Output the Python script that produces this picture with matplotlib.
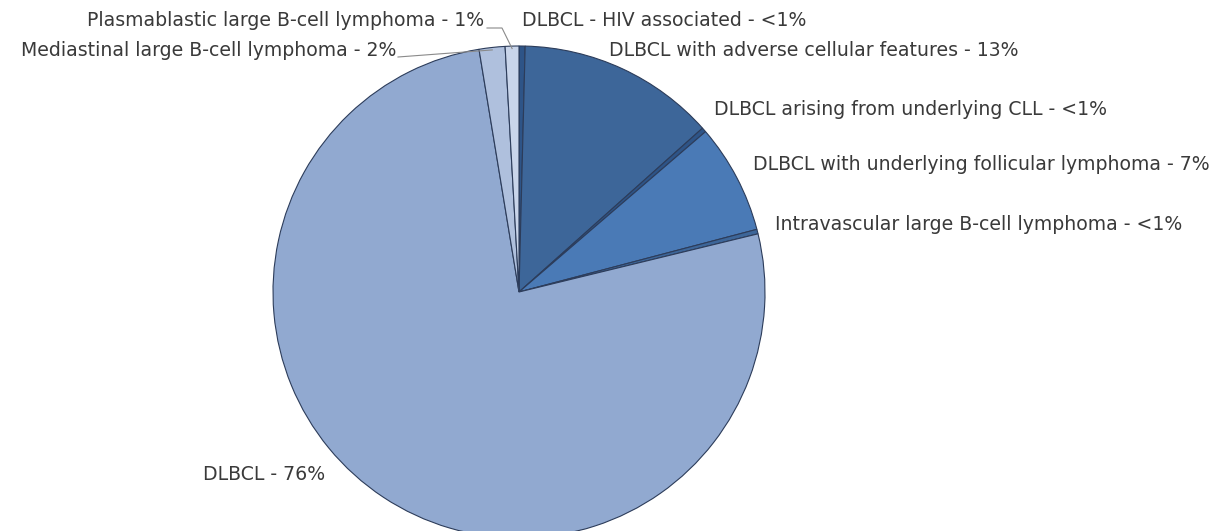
import matplotlib
matplotlib.use("Agg")
import matplotlib.pyplot as plt
import numpy as np

# slices in clockwise order starting at 12 o'clock
labels = [
    "DLBCL - HIV associated - <1%",
    "DLBCL with adverse cellular features - 13%",
    "DLBCL arising from underlying CLL - <1%",
    "DLBCL with underlying follicular lymphoma - 7%",
    "Intravascular large B-cell lymphoma - <1%",
    "DLBCL - 76%",
    "Mediastinal large B-cell lymphoma - 2%",
    "Plasmablastic large B-cell lymphoma - 1%",
]
shares = [0.4, 13.0, 0.3, 7.2, 0.3, 76.2, 1.7, 0.9]
colors = ["#2E5487", "#3D6699", "#2E5487", "#4A7AB6", "#3D6699",
          "#91A9D0", "#AFC0DD", "#C9D5EA"]

# label anchor positions in pixels (x, y, horizontal alignment)
label_pos = [
    (522, 20, "left"),
    (609, 50, "left"),
    (714, 110, "left"),
    (753, 164, "left"),
    (775, 224, "left"),
    (203, 475, "left"),
    (396, 51, "right"),
    (484, 20, "right"),
]

W, H = 1218, 531
cx, cy, R = 519, 292, 246

fig = plt.figure(figsize=(W / 100, H / 100), dpi=100)
ax = fig.add_axes([0, 0, 1, 1])
ax.pie(shares, colors=colors, startangle=90, counterclock=False, radius=1,
       wedgeprops=dict(edgecolor="#2C3C5A", linewidth=0.8))
ax.set_xlim(-cx / R, (W - cx) / R)
ax.set_ylim(-(H - cy) / R, cy / R)
ax.set_aspect("auto")
ax.axis("off")

for text, (px, py, ha) in zip(labels, label_pos):
    fig.text(px / W, 1 - py / H, text, ha=ha, va="center",
             fontsize=13.6, color="#3A3A3A", family="DejaVu Sans")


def to_data(px, py):
    return (px - cx) / R, (cy - py) / R


# leader lines for the two small slices on the upper left
cum = np.cumsum([0] + shares)
edge = {}
for i in (6, 7):
    mid = 90 - (cum[i] + shares[i] / 2) * 3.6
    edge[i] = (np.cos(np.radians(mid)) * 0.99, np.sin(np.radians(mid)) * 0.99)

# plasmablastic: short horizontal tail, then down to the slice
p0 = to_data(487, 28)
p1 = to_data(502, 28)
ax.plot([p0[0], p1[0], edge[7][0]], [p0[1], p1[1], edge[7][1]],
        color="#8A8A8A", linewidth=0.8)
# mediastinal: straight line from the label baseline to the slice
m0 = to_data(398, 57)
ax.plot([m0[0], edge[6][0]], [m0[1], edge[6][1]], color="#8A8A8A", linewidth=0.8)

fig.savefig("out.png", dpi=100, facecolor="white")
